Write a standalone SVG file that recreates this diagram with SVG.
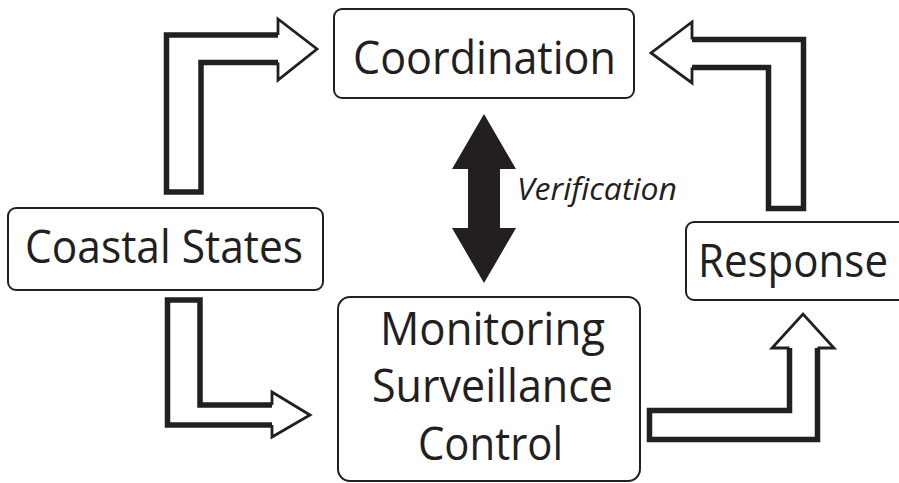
<svg xmlns="http://www.w3.org/2000/svg" width="899" height="483" viewBox="0 0 899 483">
<style>
.box{fill:#fff;stroke:#231f20;stroke-width:2}
.lbl{font-family:"Open Sans","Noto Sans","DejaVu Sans",sans-serif;font-size:46px;fill:#231f20;text-anchor:middle}
.ital{font-family:"Open Sans","Noto Sans","DejaVu Sans",sans-serif;font-size:31px;font-style:italic;fill:#231f20}
.shaft{fill:none;stroke:#231f20;stroke-width:5.5;stroke-linejoin:miter}
.head{fill:none;stroke:#231f20;stroke-width:2.8;stroke-linejoin:miter}
</style>
<rect width="899" height="483" fill="#fff"/>
<g id="connectors">
  <g id="arrow-coastal-coordination">
    <path class="shaft" d="M278,35 H166.5 V192 H201 V62.5 H278"/>
    <path class="head" d="M278,35 V19 L317,49 L278,80 V62.5"/>
  </g>
  <g id="arrow-coastal-monitoring">
    <path class="shaft" d="M272,425 H167.5 V300 H200 V405 H272"/>
    <path class="head" d="M272,425 V437 L310,415 L272,392 V405"/>
  </g>
  <g id="arrow-monitoring-response">
    <path class="shaft" d="M817.5,348 V439.5 H649.5 V410.5 H789.5 V348"/>
    <path class="head" d="M817.5,348 H834 L803,314 L772,348 H789.5"/>
  </g>
  <g id="arrow-response-coordination">
    <path class="shaft" d="M692,39.5 H803.5 V208.5 H768.5 V67.5 H692"/>
    <path class="head" d="M692,39.5 V22 L651,53 L692,83 V67.5"/>
  </g>
  <g id="arrow-verification">
    <polygon fill="#231f20" points="484,114 516,169 500,169 500,228 516,228 484,283 452,228 468,228 468,169 452,169"/>
  </g>
</g>
<g id="node-coordination">
  <rect class="box" x="334" y="9" width="300" height="89" rx="8"/>
  <text class="lbl" x="484.5" y="74" textLength="263" lengthAdjust="spacingAndGlyphs">Coordination</text>
</g>
<g id="node-coastal-states">
  <rect class="box" x="8" y="208" width="315" height="82" rx="8"/>
  <text class="lbl" x="164" y="263" textLength="278" lengthAdjust="spacingAndGlyphs">Coastal States</text>
</g>
<g id="node-response">
  <rect class="box" x="686" y="222" width="230" height="78" rx="8"/>
  <text class="lbl" x="793" y="277" textLength="190" lengthAdjust="spacingAndGlyphs">Response</text>
</g>
<g id="node-monitoring">
  <rect class="box" x="338" y="297" width="302" height="184" rx="12"/>
  <text class="lbl" x="492.5" y="345" textLength="225" lengthAdjust="spacingAndGlyphs">Monitoring</text>
  <text class="lbl" x="492.5" y="402" textLength="241" lengthAdjust="spacingAndGlyphs">Surveillance</text>
  <text class="lbl" x="490.5" y="460" textLength="145" lengthAdjust="spacingAndGlyphs">Control</text>
</g>
<g id="label-verification">
  <text class="ital" x="517" y="200" textLength="160" lengthAdjust="spacingAndGlyphs">Verification</text>
</g>
</svg>
